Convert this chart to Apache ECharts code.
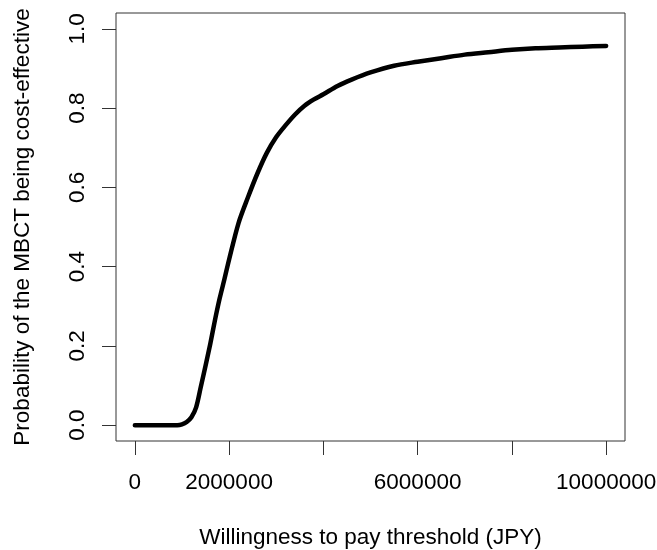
<!DOCTYPE html>
<html>
<head>
<meta charset="utf-8">
<script src="https://cdn.jsdelivr.net/npm/echarts@6/dist/echarts.min.js"></script>
<style>html,body{margin:0;padding:0;background:#fff}#c{width:657px;height:550px}</style>
</head>
<body>
<div id="c"></div>
<script>
const wtp = [0, 500000, 900000, 1000000, 1100000, 1200000, 1300000, 1400000, 1500000, 1600000, 1700000, 1800000, 1900000, 2000000, 2200000, 2400000, 2600000, 2800000, 3000000, 3200000, 3400000, 3600000, 3800000, 4000000, 4300000, 4600000, 5000000, 5500000, 6000000, 6500000, 7000000, 7500000, 8000000, 8500000, 9000000, 9500000, 10000000];
const prob = [0, 0, 0, 0.002, 0.008, 0.02, 0.045, 0.097, 0.15, 0.205, 0.265, 0.32, 0.368, 0.418, 0.51, 0.575, 0.635, 0.687, 0.727, 0.757, 0.784, 0.806, 0.822, 0.835, 0.856, 0.872, 0.89, 0.907, 0.917, 0.926, 0.935, 0.941, 0.947, 0.951, 0.953, 0.955, 0.957];
const xTicks = [0, 2000000, 4000000, 6000000, 8000000, 10000000];
const xTickLabels = [0, 2000000, 6000000, 10000000];
const yTicks = [0, 0.2, 0.4, 0.6, 0.8, 1.0];

const font = 'Liberation Sans, Arial, sans-serif';
const fs = 22.5;
const chart = echarts.init(document.getElementById('c'), null, {renderer: 'canvas'});
chart.setOption({
  animation: false,
  backgroundColor: '#fff',
  grid: {left: 116, top: 13, width: 509, height: 428, show: true, borderColor: '#333', borderWidth: 1, backgroundColor: 'transparent', outerBoundsMode: 'none', containLabel: false},
  xAxis: {
    type: 'value', min: -400000, max: 10400000,
    name: 'Willingness to pay threshold (JPY)', nameLocation: 'middle', nameGap: 85,
    nameTextStyle: {fontFamily: font, fontSize: fs, color: '#000'},
    axisLine: {show: false, onZero: false},
    axisTick: {show: true, inside: false, length: 14, lineStyle: {color: '#333', width: 1}, customValues: xTicks},
    axisLabel: {fontFamily: font, fontSize: fs, color: '#000', margin: 30, customValues: xTickLabels, formatter: v => String(v)},
    splitLine: {show: false}
  },
  yAxis: {
    type: 'value', min: -0.04, max: 1.04,
    name: 'Probability of the MBCT being cost-effective', nameLocation: 'middle', nameGap: 82,
    nameTextStyle: {fontFamily: font, fontSize: fs, color: '#000'},
    axisLine: {show: false, onZero: false},
    axisTick: {show: true, inside: false, length: 14, lineStyle: {color: '#333', width: 1}, customValues: yTicks},
    axisLabel: {fontFamily: font, fontSize: fs, color: '#000', margin: 27, rotate: 90, customValues: yTicks, formatter: v => v.toFixed(1)},
    splitLine: {show: false}
  },
  series: [{
    type: 'line',
    data: wtp.map((w, i) => [w, prob[i]]),
    showSymbol: false,
    smooth: 0.3,
    lineStyle: {color: '#000', width: 4.5, cap: 'round', join: 'round'}
  }]
});
</script>
</body>
</html>
